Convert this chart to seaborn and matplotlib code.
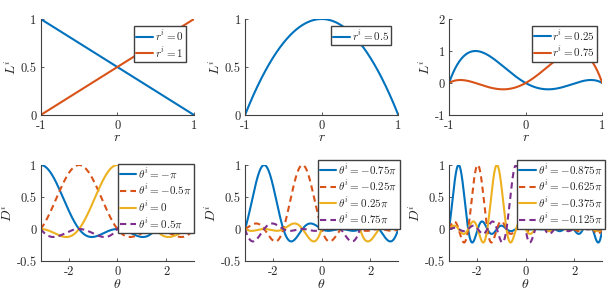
import numpy as np
import pandas as pd
import matplotlib
matplotlib.use("Agg")
import matplotlib.pyplot as plt
import seaborn as sns

# ---------------- data ----------------
# Top row: Lagrange basis on interpolation nodes in [-1, 1]
r_nodes_a = [-1.0, 1.0]
r_nodes_b = [-1.0, 0.0, 1.0]
r_nodes_c = [-1.0, -0.6547, 0.0, 0.6547, 1.0]
r_show_a = [0, 1]
r_show_b = [1]
r_show_c = [1, 3]
r_labels_a = [r"$r^i = 0$", r"$r^i = 1$"]
r_labels_b = [r"$r^i = 0.5$"]
r_labels_c = [r"$r^i = 0.25$", r"$r^i = 0.75$"]

# Bottom row: periodic (trigonometric) cardinal functions, N nodes on [-pi, pi)
theta_N = [4, 8, 16]
theta_centers_a = [-1.0, -0.5, 0.0, 0.5]          # units of pi
theta_centers_b = [-0.75, -0.25, 0.25, 0.75]
theta_centers_c = [-0.875, -0.625, -0.375, -0.125]
theta_labels_a = [r"$\theta^i = -\pi$", r"$\theta^i = -0.5\pi$", r"$\theta^i = 0$", r"$\theta^i = 0.5\pi$"]
theta_labels_b = [r"$\theta^i = -0.75\pi$", r"$\theta^i = -0.25\pi$", r"$\theta^i = 0.25\pi$", r"$\theta^i = 0.75\pi$"]
theta_labels_c = [r"$\theta^i = -0.875\pi$", r"$\theta^i = -0.625\pi$", r"$\theta^i = -0.375\pi$", r"$\theta^i = -0.125\pi$"]

colors = ["#0072BD", "#D95319", "#EDB120", "#7E2F8E"]
styles = ["-", "--", "-", "--"]


def lagrange(nodes, j, x):
    nodes = np.asarray(nodes)
    out = np.ones_like(x)
    for m, xm in enumerate(nodes):
        if m != j:
            out *= (x - xm) / (nodes[j] - xm)
    return out


def periodic_card(N, center, th):
    d = th - center
    d = (d + np.pi) % (2 * np.pi) - np.pi
    with np.errstate(divide="ignore", invalid="ignore"):
        v = np.sin(N * d / 2) / (N * np.tan(d / 2))
    v = np.where(np.abs(d) < 1e-9, 1.0, v)
    return v


# ---------------- style ----------------
sns.set_theme(style="ticks")
plt.rcParams.update({
    "font.family": ["cmr10", "DejaVu Serif"],
    "mathtext.fontset": "cm",
    "axes.unicode_minus": False,
    "axes.formatter.use_mathtext": True,
    "axes.edgecolor": "#404040",
    "axes.linewidth": 0.8,
    "xtick.color": "#404040",
    "ytick.color": "#404040",
    "xtick.labelcolor": "#262626",
    "ytick.labelcolor": "#262626",
    "xtick.direction": "in",
    "ytick.direction": "in",
    "xtick.major.size": 2.5,
    "ytick.major.size": 2.5,
    "xtick.major.width": 0.6,
    "ytick.major.width": 0.6,
    "xtick.labelsize": 9,
    "ytick.labelsize": 9,
    "lines.scale_dashes": True,
})

fig = plt.figure(figsize=(6.15, 2.9), dpi=100)
W, H = 615.0, 290.0
lefts = [40.7, 245.0, 449.0]
width = 153.3
tops = [19.0, 165.0]
height = 96.0

axes = []
for row in range(2):
    rr = []
    for col in range(3):
        ax = fig.add_axes([lefts[col] / W, 1 - (tops[row] + height) / H, width / W, height / H])
        rr.append(ax)
    axes.append(rr)

r = np.linspace(-1, 1, 601)
th = np.linspace(-np.pi, np.pi, 1201)

LEG = dict(loc="upper right", fontsize=8, frameon=True, fancybox=False,
           edgecolor="#404040", framealpha=1, borderpad=0.2, labelspacing=0.2,
           handlelength=1.5, handletextpad=0.15, borderaxespad=0.0)

top_sets = [(r_nodes_a, r_show_a, r_labels_a),
            (r_nodes_b, r_show_b, r_labels_b),
            (r_nodes_c, r_show_c, r_labels_c)]
top_ylims = [(0, 1), (0, 1), (-1, 2)]
top_yticks = [[0, 0.5, 1], [0, 0.5, 1], [-1, 0, 1, 2]]
top_yticklabels = [["0", "0.5", "1"], ["0", "0.5", "1"], ["-1", "0", "1", "2"]]
top_legend_anchor = [(0.946, 0.927), (0.954, 0.927), (0.967, 0.93)]

for col, (nodes, show, labels) in enumerate(top_sets):
    ax = axes[0][col]
    for k, (j, lab) in enumerate(zip(show, labels)):
        df = pd.DataFrame({"r": r, "L": lagrange(nodes, j, r)})
        sns.lineplot(data=df, x="r", y="L", ax=ax, color=colors[k], lw=1.5,
                     label=lab, legend=False)
    ax.set_xlim(-1, 1)
    ax.set_ylim(*top_ylims[col])
    ax.set_xticks([-1, 0, 1])
    ax.set_xticklabels(["-1", "0", "1"])
    ax.set_yticks(top_yticks[col])
    ax.set_yticklabels(top_yticklabels[col])
    ax.set_xlabel(r"$r$", fontsize=10, labelpad=0)
    ax.set_ylabel(r"$L^i$", fontsize=10, labelpad=1)
    ax.legend(bbox_to_anchor=top_legend_anchor[col], **LEG)

bot_sets = [(theta_N[0], theta_centers_a, theta_labels_a),
            (theta_N[1], theta_centers_b, theta_labels_b),
            (theta_N[2], theta_centers_c, theta_labels_c)]
bot_legend_anchor = [(1.0, 1.01), (1.008, 1.05), (1.015, 1.05)]

for col, (N, centers, labels) in enumerate(bot_sets):
    ax = axes[1][col]
    for k, (c, lab) in enumerate(zip(centers, labels)):
        df = pd.DataFrame({"theta": th, "D": periodic_card(N, c * np.pi, th)})
        sns.lineplot(data=df, x="theta", y="D", ax=ax, color=colors[k], lw=1.5,
                     label=lab, legend=False)
        if styles[k] == "--":
            ax.lines[-1].set_dashes((3, 2))
    ax.set_xlim(-np.pi, np.pi)
    ax.set_ylim(-0.5, 1)
    ax.set_xticks([-2, 0, 2])
    ax.set_xticklabels(["-2", "0", "2"])
    ax.set_yticks([-0.5, 0, 0.5, 1])
    ax.set_yticklabels(["-0.5", "0", "0.5", "1"])
    ax.set_xlabel(r"$\theta$", fontsize=10, labelpad=0)
    ax.set_ylabel(r"$D^i$", fontsize=10, labelpad=1)
    ax.legend(bbox_to_anchor=bot_legend_anchor[col], **LEG)

for row in axes:
    for ax in row:
        sns.despine(ax=ax)
        ax.tick_params(axis="x", pad=3.5)
        ax.tick_params(axis="y", pad=3)

fig.savefig("out.png", dpi=100)
